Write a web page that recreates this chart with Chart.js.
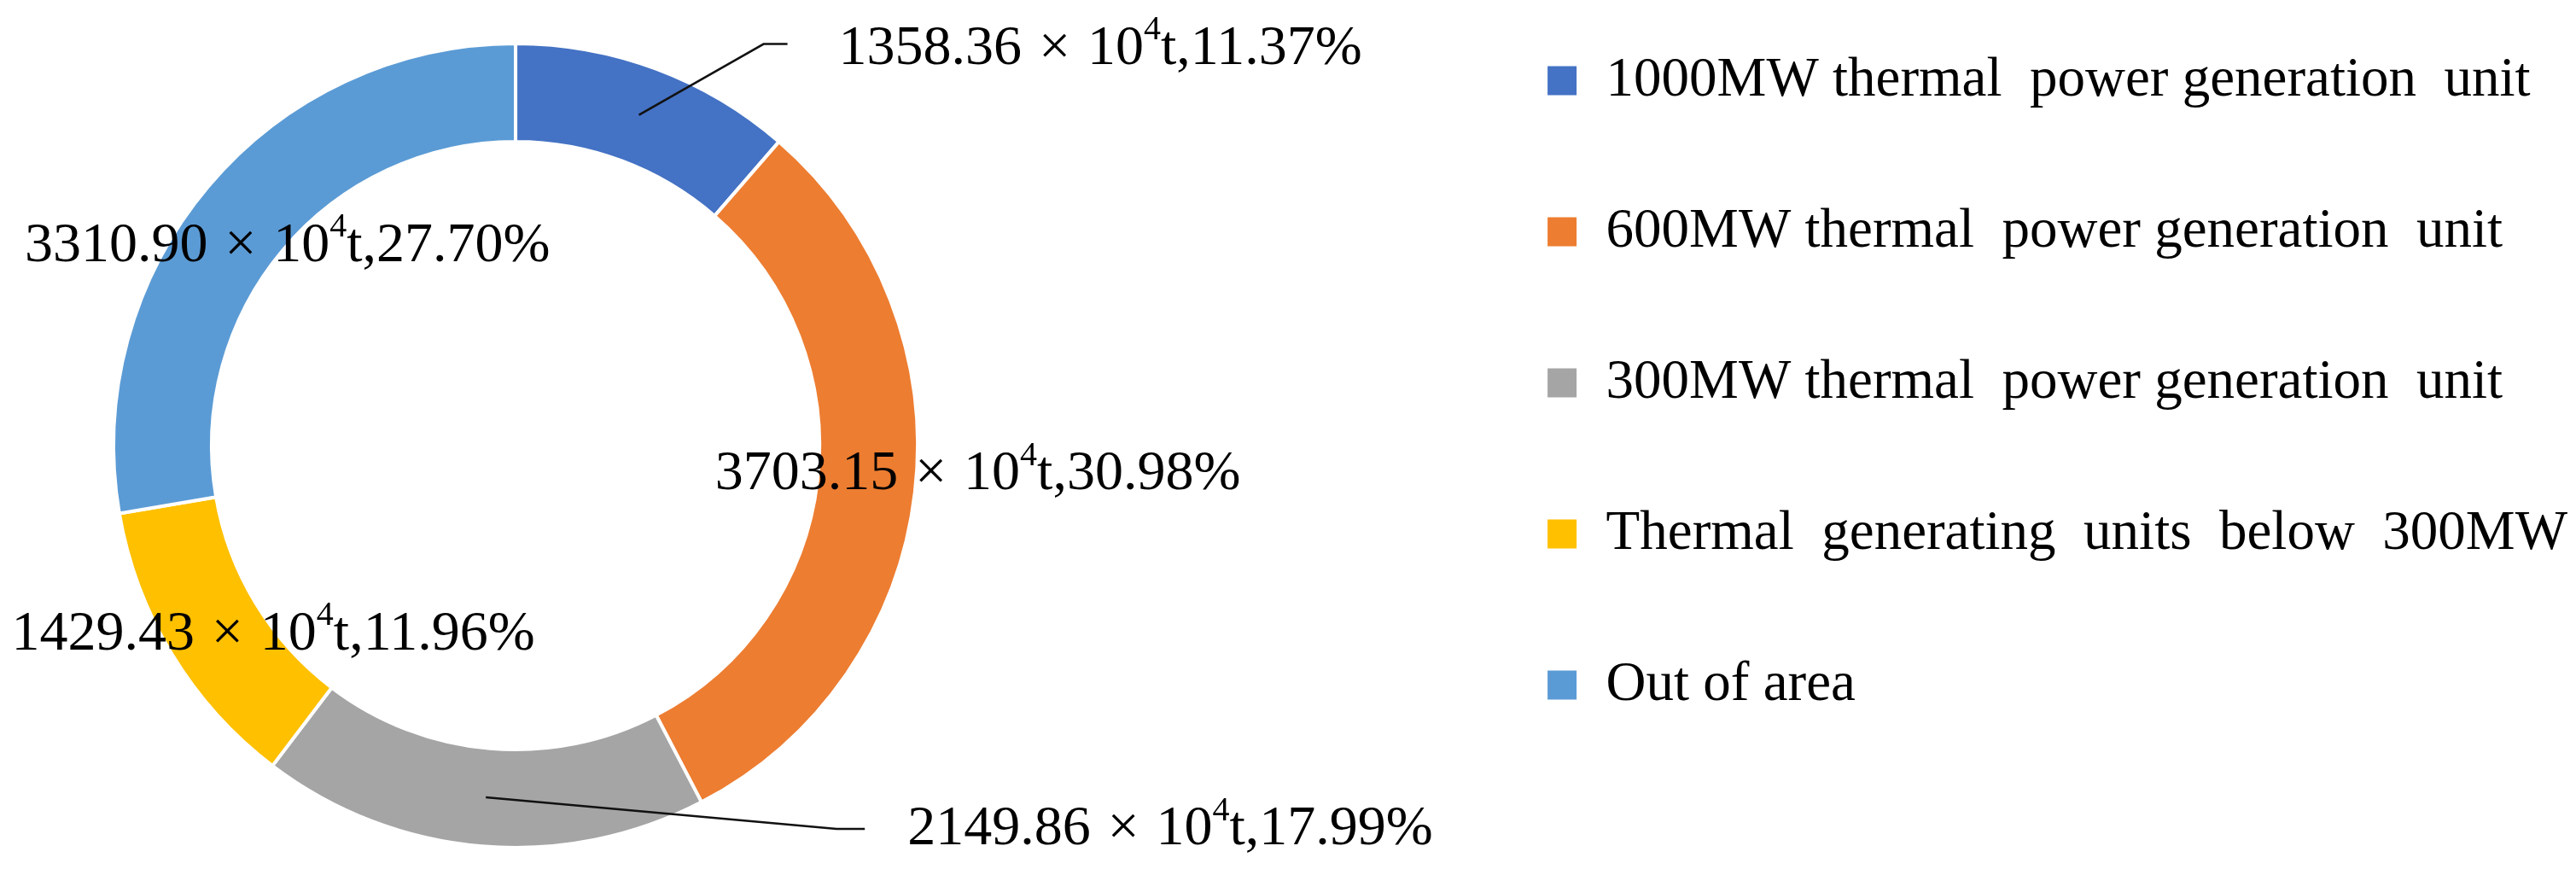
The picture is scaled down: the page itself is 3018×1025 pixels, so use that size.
<!DOCTYPE html>
<html>
<head>
<meta charset="utf-8">
<script src="https://cdn.jsdelivr.net/npm/chart.js@4.4.0/dist/chart.umd.min.js"></script>
<style>
  html, body { margin: 0; padding: 0; background: #fff; overflow: hidden; }
  /* canvas is a bit bigger than the window so the legend and the ring sit where the original has them */
  #wrap { position: absolute; left: -491px; top: -50px; width: 3509px; height: 1144px; }
</style>
</head>
<body>
<div id="wrap"><canvas id="myChart"></canvas></div>
<script>
const categories = [
  '1000MW thermal  power generation  unit',
  '600MW thermal  power generation  unit',
  '300MW thermal  power generation  unit',
  'Thermal  generating  units  below  300MW',
  'Out of area'
];
const coalUse = [1358.36, 3703.15, 2149.86, 1429.43, 3310.90];
const sliceColors = ['#4472C4', '#ED7D31', '#A5A5A5', '#FFC000', '#5B9BD5'];
const unitBase = '10';
const unitExp = '4';
const unitTail = 't';

const SERIF = "'Liberation Serif', 'Times New Roman', serif";
const LABEL_SIZE = 66;
const SUP_SIZE = 40;

// where each label goes, relative to the middle of its slice (px); optional leader line
const labelSpots = [
  { dx: 234, dy: -77, line: [[146, -83], [174, -83]] },
  { dx: -177, dy: -14 },
  { dx: 494, dy: 38, line: [[411, 37], [444, 37]] },
  { dx: -237, dy: 7 },
  { dx: -259, dy: 33 }
];

function drawPart(ctx, text, x, y, size) {
  ctx.font = size + 'px ' + SERIF;
  ctx.fillText(text, x, y);
  return x + ctx.measureText(text).width;
}

const sliceLabels = {
  id: 'sliceLabels',
  afterDatasetsDraw(chart) {
    const ctx = chart.ctx;
    const meta = chart.getDatasetMeta(0);
    const total = coalUse.reduce((a, b) => a + b, 0);
    ctx.save();
    ctx.fillStyle = '#000';
    ctx.strokeStyle = '#111';
    ctx.lineWidth = 2.5;
    ctx.textBaseline = 'middle';
    ctx.textAlign = 'left';
    meta.data.forEach((arc, i) => {
      const c = arc.tooltipPosition();
      const spot = labelSpots[i];
      if (spot.line) {
        ctx.beginPath();
        ctx.moveTo(c.x, c.y);
        spot.line.forEach(p => ctx.lineTo(c.x + p[0], c.y + p[1]));
        ctx.stroke();
      }
      const y = c.y + spot.dy;
      const pct = (coalUse[i] / total * 100).toFixed(2);
      const gap = LABEL_SIZE * 0.3;
      let x = c.x + spot.dx;
      x = drawPart(ctx, coalUse[i].toFixed(2), x, y, LABEL_SIZE) + gap;
      x = drawPart(ctx, '\u00d7', x, y, LABEL_SIZE) + gap;
      x = drawPart(ctx, unitBase, x, y, LABEL_SIZE);
      x = drawPart(ctx, unitExp, x, y - LABEL_SIZE * 0.33, SUP_SIZE);
      drawPart(ctx, unitTail + ',' + pct + '%', x, y, LABEL_SIZE);
    });
    ctx.restore();
  }
};

const ctx = document.getElementById('myChart').getContext('2d');
Chart.defaults.font.family = SERIF;

const myChart = new Chart(ctx, {
  type: 'doughnut',
  data: {
    labels: categories,
    datasets: [{
      data: coalUse,
      backgroundColor: sliceColors,
      borderColor: '#fff',
      borderWidth: 4,
      radius: 471,
      cutout: '75.6%'
    }]
  },
  options: {
    responsive: true,
    maintainAspectRatio: false,
    animation: false,
    layout: { padding: 0 },
    plugins: {
      legend: {
        position: 'right',
        align: 'start',
        labels: {
          boxWidth: 38,
          boxHeight: 38,
          padding: 112,
          color: '#000',
          font: { size: 65, family: SERIF }
        }
      },
      tooltip: { enabled: false }
    }
  },
  plugins: [sliceLabels]
});
</script>
</body>
</html>
